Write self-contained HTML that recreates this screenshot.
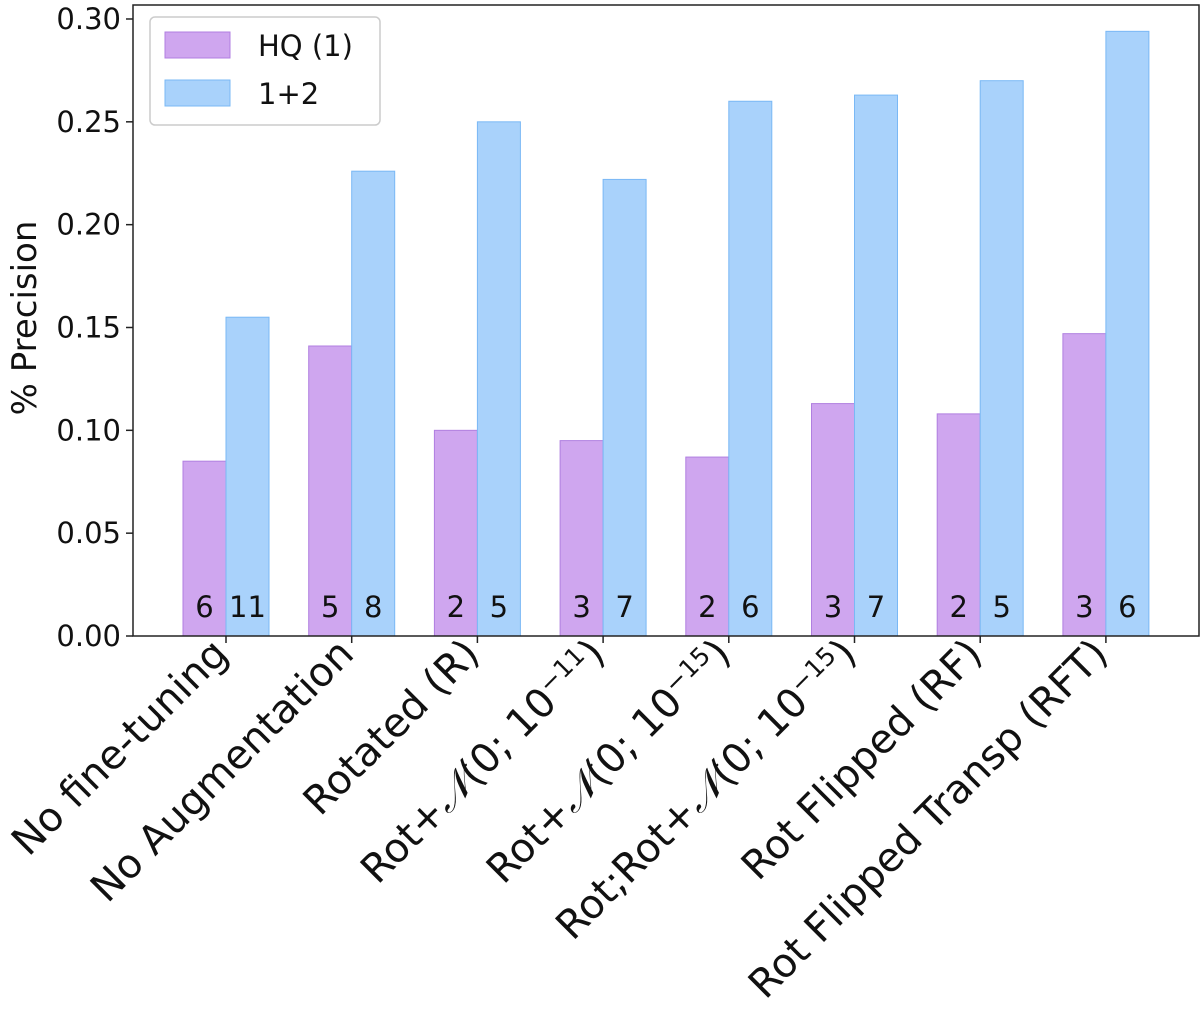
<!DOCTYPE html>
<html><head><meta charset="utf-8"><style>body{margin:0;background:#fff}svg{display:block;font-family:"DejaVu Sans","Liberation Sans",sans-serif}</style></head>
<body>
<svg id="chart" width="1200" height="1011" viewBox="0 0 1200 1011" xmlns="http://www.w3.org/2000/svg">
<g id="bars"></g>
<rect x="133" y="5" width="1066" height="631" fill="none" stroke="#222" stroke-width="1.5"/>
<g id="yaxis"></g>
<g id="xaxis"></g>
<text transform="translate(36,318) rotate(-90)" text-anchor="middle" font-size="34" fill="#111">% Precision</text>
<g>
<rect x="150" y="17" width="230" height="108" rx="5" fill="#fff" fill-opacity="0.85" stroke="#ccc" stroke-width="1.5"/>
<rect x="165" y="32" width="65" height="26" fill="#cfa6ef" stroke="#b07fe0"/>
<text x="258" y="56" font-size="29" fill="#111">HQ (1)</text>
<rect x="165" y="80" width="65" height="26" fill="#a9d2fb" stroke="#7ab8f5"/>
<text x="258" y="104" font-size="29" fill="#111">1+2</text>
</g>
</svg>
<script>
const categories=["No fine-tuning","No Augmentation","Rotated (R)","Rot+N11","Rot+N15","Rot;Rot+N15","Rot Flipped (RF)","Rot Flipped Transp (RFT)"];
const hqValues=[0.085,0.141,0.100,0.095,0.087,0.113,0.108,0.147];
const combinedValues=[0.155,0.226,0.250,0.222,0.260,0.263,0.270,0.294];
const hqCounts=["6","5","2","3","2","3","2","3"];
const combinedCounts=["11","8","5","7","6","7","5","6"];
const yTicks=[0,0.05,0.10,0.15,0.20,0.25,0.30];
const NS="http://www.w3.org/2000/svg";
const y=v=>636-v*2056.7;
const xc=i=>226+i*125.7;
const bw=43;
function mk(t,a,p){const e=document.createElementNS(NS,t);for(const k in a)e.setAttribute(k,a[k]);p.appendChild(e);return e;}
const bars=document.getElementById('bars');
categories.forEach((c,i)=>{
 const r1=mk('rect',{x:xc(i)-bw,y:y(hqValues[i]),width:bw,height:636-y(hqValues[i]),fill:'#cfa6ef',stroke:'#b07fe0','stroke-width':1},bars);
 
 
 const r2=mk('rect',{x:xc(i),y:y(combinedValues[i]),width:bw,height:636-y(combinedValues[i]),fill:'#a9d2fb',stroke:'#7ab8f5','stroke-width':1},bars);
 
 
 const t1=mk('text',{x:xc(i)-bw/2,y:617,'text-anchor':'middle','font-size':29,fill:'#111'},bars);t1.textContent=hqCounts[i];
 
 
 const t2=mk('text',{x:xc(i)+bw/2,y:617,'text-anchor':'middle','font-size':29,fill:'#111'},bars);t2.textContent=combinedCounts[i];
 
 
});
const ya=document.getElementById('yaxis');
yTicks.forEach(v=>{
 mk('line',{x1:126,x2:133,y1:y(v),y2:y(v),stroke:'#222','stroke-width':1.5},ya);
 const t=mk('text',{x:121,y:y(v)+10,'text-anchor':'end','font-size':29,fill:'#111'},ya);t.textContent=v.toFixed(2);
 
 
});
const xa=document.getElementById('xaxis');
const labelHTML=["No fine-tuning","No Augmentation","Rotated (R)",
 'Rot+<tspan font-style="italic" font-family="DejaVu Serif,serif">𝒩</tspan>(0; 10<tspan baseline-shift="super" font-size="25">−11</tspan>)',
 'Rot+<tspan font-style="italic" font-family="DejaVu Serif,serif">𝒩</tspan>(0; 10<tspan baseline-shift="super" font-size="25">−15</tspan>)',
 'Rot;Rot+<tspan font-style="italic" font-family="DejaVu Serif,serif">𝒩</tspan>(0; 10<tspan baseline-shift="super" font-size="25">−15</tspan>)',
 "Rot Flipped (RF)","Rot Flipped Transp (RFT)"];
categories.forEach((c,i)=>{
 mk('line',{x1:xc(i),x2:xc(i),y1:636,y2:643,stroke:'#222','stroke-width':1.5},xa);
 const t=mk('text',{transform:`translate(${xc(i)+4},${656}) rotate(-45)`,'text-anchor':'end','font-size':40,fill:'#111'},xa);
 t.innerHTML=labelHTML[i];
 
 
});
</script>
</body></html>
